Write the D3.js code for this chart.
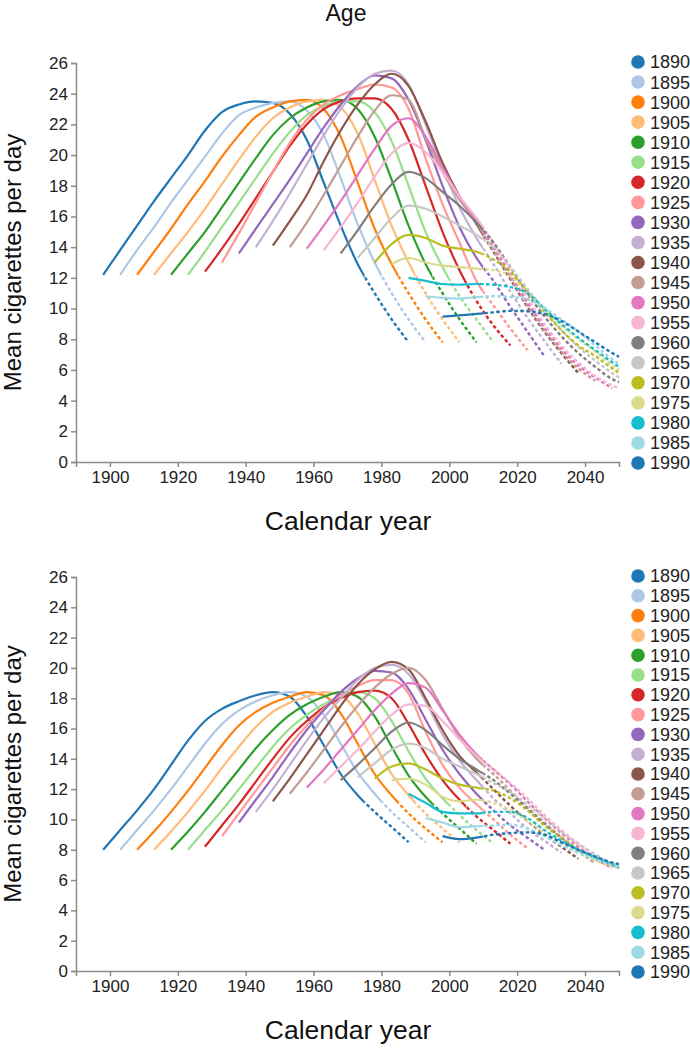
<!DOCTYPE html>
<html><head><meta charset="utf-8">
<script src="https://cdn.jsdelivr.net/npm/d3@7"></script>
<style>
body{margin:0;background:#fff;}
svg{display:block;font-family:"Liberation Sans",Arial,sans-serif;}
.axis path,.axis line{stroke:#8c8c8c;stroke-width:1.5;}
.axis text{fill:#222;font-size:17px;font-family:"Liberation Sans",Arial,sans-serif;}
</style></head><body>
<svg id="chart" width="690" height="1050"></svg>
<script>
// ---- data ----
const cohorts = [1890,1895,1900,1905,1910,1915,1920,1925,1930,1935,1940,1945,1950,1955,1960,1965,1970,1975,1980,1985,1990];
const cohortColors = ["#1f77b4","#aec7e8","#ff7f0e","#ffbb78","#2ca02c","#98df8a","#d62728","#ff9896","#9467bd","#c5b0d5","#8c564b","#c49c94","#e377c2","#f7b6d2","#7f7f7f","#c7c7c7","#bcbd22","#dbdb8d","#17becf","#9edae5","#1f77b4"];
const sampleAges = [8,13,18,23,28,33,38,43,48,53,58,63,68,73,78,83,88,93,98];
const xTickValues = [1900,1920,1940,1960,1980,2000,2020,2040];
const yTickValues = [0,2,4,6,8,10,12,14,16,18,20,22,24,26];
const lastYear = 2050, observedEndYear = 2010, observedMaxAge = 85;

const topValues = [
 [12.2,13.8,15.4,17.0,18.5,20.0,21.6,22.8,23.3,23.5,23.4,22.7,21.0,18.2,15.4,12.9,11.0,9.3,7.8],
 [12.2,13.8,15.3,16.9,18.4,19.9,21.4,22.6,23.1,23.4,23.5,22.9,21.3,18.5,15.5,13.0,11.0,9.3,7.8],
 [12.2,13.7,15.2,16.8,18.3,19.9,21.3,22.5,23.1,23.5,23.6,23.0,21.2,18.2,15.2,12.9,11.0,9.3,7.8],
 [12.2,13.6,15.0,16.5,18.1,19.7,21.2,22.4,23.1,23.5,23.6,23.1,21.4,18.4,15.4,13.0,11.0,9.3,7.8],
 [12.2,13.6,15.0,16.6,18.2,19.8,21.3,22.4,23.1,23.5,23.6,23.0,21.2,18.4,15.4,12.9,11.0,9.3,7.8],
 [12.2,13.7,15.3,16.9,18.5,20.1,21.5,22.6,23.2,23.5,23.5,22.8,20.9,18.0,15.0,12.7,10.8,9.3,7.8],
 [12.4,13.9,15.5,17.2,18.9,20.6,22.0,23.0,23.5,23.7,23.7,23.0,21.0,18.0,15.0,12.5,10.5,8.9,7.6],
 [13.0,14.9,16.9,18.9,20.8,22.3,23.3,23.9,24.3,24.6,24.4,23.0,19.8,16.8,14.3,11.8,10.2,8.7,7.3],
 [13.6,15.2,16.8,18.4,20.1,21.8,23.3,24.5,25.2,25.0,23.6,21.0,18.0,15.3,13.3,11.8,10.1,8.5,6.9],
 [14.0,15.7,17.5,19.4,21.3,23.0,24.4,25.3,25.5,24.6,22.0,19.2,16.6,14.6,12.9,11.1,9.4,7.9,6.4],
 [14.1,15.7,17.4,19.6,21.6,23.3,24.6,25.3,24.5,22.2,19.5,17.3,15.5,13.7,11.9,10.1,8.5,7.1,5.8],
 [14.0,15.6,17.4,19.3,21.2,22.9,23.9,23.6,21.1,18.9,17.1,15.6,13.8,12.0,10.2,8.6,7.2,6.1,5.3],
 [13.9,15.4,17.0,18.7,20.4,21.9,22.4,21.2,19.2,17.3,15.7,14.0,12.2,10.4,8.8,7.4,6.3,5.5,4.8],
 [13.8,15.3,16.9,18.6,20.1,20.8,20.2,18.9,17.3,15.9,14.3,12.5,10.7,9.0,7.6,6.5,5.6,5.0,4.8],
 [13.6,15.1,16.7,18.1,18.9,18.5,17.6,16.7,15.6,14.3,12.7,11.0,9.5,8.2,7.1,6.2,5.4,5.2],
 [13.3,14.6,15.9,16.7,16.5,16.0,15.4,14.8,14.0,12.7,11.3,9.9,8.6,7.5,6.6,5.8,5.5],
 [13.0,14.2,14.8,14.6,14.1,13.9,13.7,13.2,12.4,11.1,9.8,8.6,7.6,6.9,6.1,5.8],
 [12.9,13.3,13.0,12.8,12.7,12.6,12.5,12.1,11.0,10.0,8.9,8.0,7.2,6.3,6.0],
 [12.0,11.8,11.6,11.55,11.6,11.55,11.4,11.0,10.0,9.0,8.1,7.3,6.5,6.2],
 [10.8,10.7,10.65,10.75,10.8,10.75,10.6,10.05,9.3,8.5,7.6,6.7,6.4],
 [9.47,9.55,9.65,9.75,9.85,9.82,9.65,9.2,8.5,7.8,7.1,6.85]
];

const bottomValues = [
 [8.0,9.3,10.6,12.0,13.6,15.2,16.5,17.3,17.8,18.2,18.4,18.1,16.8,14.9,13.0,11.6,10.5,9.5,8.5],
 [8.0,9.3,10.6,12.0,13.5,15.0,16.3,17.2,17.8,18.2,18.4,18.1,16.9,15.0,13.1,11.7,10.5,9.5,8.5],
 [8.0,9.2,10.5,11.9,13.4,14.9,16.2,17.1,17.7,18.1,18.4,18.2,17.0,15.0,13.0,11.6,10.4,9.4,8.5],
 [8.0,9.2,10.5,11.9,13.4,14.8,16.1,17.1,17.7,18.1,18.4,18.2,17.0,15.0,13.0,11.6,10.4,9.4,8.5],
 [8.0,9.2,10.5,11.9,13.3,14.7,15.9,16.9,17.6,18.1,18.4,18.1,16.8,14.8,12.9,11.5,10.4,9.4,8.4],
 [8.0,9.3,10.6,12.0,13.4,14.8,16.0,16.9,17.6,18.1,18.4,18.0,16.5,14.5,12.7,11.4,10.3,9.3,8.4],
 [8.2,9.6,11.0,12.5,14.0,15.4,16.5,17.4,18.0,18.4,18.5,18.0,16.3,14.3,12.6,11.3,10.2,9.3,8.4],
 [8.9,10.4,11.9,13.4,14.9,16.2,17.3,18.2,18.8,19.2,19.2,18.3,15.8,13.6,12.1,11.0,10.0,9.0,8.1],
 [9.8,11.3,12.8,14.4,15.9,17.2,18.4,19.3,19.8,19.7,18.6,16.6,14.6,13.0,11.7,10.6,9.6,8.8,8.0],
 [10.5,12.0,13.6,15.2,16.7,18.0,19.2,20.0,20.2,19.6,17.8,15.6,13.9,12.6,11.4,10.4,9.4,8.6,7.8],
 [11.2,12.7,14.3,15.9,17.5,18.9,19.9,20.4,19.9,18.0,15.9,14.2,13.1,12.0,10.9,9.9,9.0,8.2,7.4],
 [11.7,13.1,14.6,16.1,17.5,18.7,19.6,20.0,19.2,17.3,15.4,14.0,13.0,11.9,10.8,9.8,8.8,7.9,7.1],
 [12.1,13.3,14.6,15.9,17.2,18.3,19.0,18.7,17.2,15.6,14.3,13.3,12.3,11.2,10.1,9.1,8.2,7.4,6.8],
 [12.4,13.5,14.6,15.8,16.9,17.6,17.5,16.5,15.3,14.2,13.3,12.4,11.4,10.3,9.3,8.4,7.6,7.0,6.8],
 [12.6,13.6,14.7,15.8,16.4,15.9,14.9,14.0,13.3,12.6,11.7,10.7,9.7,8.8,8.0,7.4,7.0,6.9],
 [12.8,13.7,14.6,15.0,14.7,14.0,13.5,13.0,12.4,11.8,11.0,10.1,9.2,8.4,7.7,7.1,7.0],
 [12.7,13.5,13.7,13.3,12.7,12.3,12.1,11.9,11.4,10.6,9.6,8.8,8.0,7.5,7.0,6.9],
 [12.6,12.7,12.3,11.5,11.2,11.3,11.1,10.6,9.9,9.1,8.4,7.8,7.3,6.9,6.8],
 [11.7,11.1,10.5,10.4,10.4,10.5,10.5,10.1,9.3,8.6,8.0,7.5,7.0,6.8],
 [10.1,9.8,9.5,9.55,9.6,9.65,9.4,8.9,8.3,7.8,7.4,7.0,6.9],
 [8.9,8.7,8.8,9.0,9.1,9.15,9.0,8.5,8.0,7.55,7.15,7.05]
];

// ---- drawing ----
const svg = d3.select("#chart");
const defs = svg.append("defs");
const W = 690, H = 1050;

function agesFor(birth){
  const a = sampleAges.filter(v => birth + v <= lastYear);
  if (birth + sampleAges[sampleAges.length-1] > lastYear && a[a.length-1] < lastYear - birth) a.push(lastYear - birth);
  return a;
}

svg.append("text").attr("x",346).attr("y",21).attr("text-anchor","middle")
  .attr("font-size",23).attr("fill","#111").text("Age");

function drawPanel(values, top, bottom, idx){
  const x = d3.scaleLinear().domain([1890, 2050]).range([76, 619]);
  const y = d3.scaleLinear().domain([0, 26]).range([bottom, top]);
  const g = svg.append("g");

  g.append("g").attr("class","axis").attr("transform",`translate(0,${bottom})`)
    .call(d3.axisBottom(x).tickValues(xTickValues).tickFormat(d3.format("d")).tickSize(5).tickSizeOuter(5).tickPadding(4));
  g.append("g").attr("class","axis").attr("transform","translate(76,0)")
    .call(d3.axisLeft(y).tickValues(yTickValues).tickSize(5).tickSizeOuter(5).tickPadding(3));

  g.append("text").attr("x",348).attr("y",bottom+68).attr("text-anchor","middle")
    .attr("font-size",26.5).attr("fill","#111").text("Calendar year");
  g.append("text").attr("transform",`translate(21,${(top+bottom)/2}) rotate(-90)`)
    .attr("text-anchor","middle").attr("font-size",24).attr("fill","#111").text("Mean cigarettes per day");

  const line = d3.line().x(d => x(d.year)).y(d => y(d.value)).curve(d3.curveMonotoneX);
  const lines = g.append("g");
  cohorts.forEach((c, i) => {
    const ages = agesFor(c);
    const vals = values[i];
    const n = Math.min(ages.length, vals.length);
    const pts = [];
    for (let j = 0; j < n; j++) pts.push({year: c + ages[j], value: vals[j]});
    const split = Math.min(c + observedMaxAge, observedEndYear);
    const idS = `cs${idx}_${i}`, idD = `cd${idx}_${i}`;
    defs.append("clipPath").attr("id", idS).append("rect")
      .attr("x", 0).attr("y", 0).attr("width", x(split)).attr("height", H);
    defs.append("clipPath").attr("id", idD).append("rect")
      .attr("x", x(split)).attr("y", 0).attr("width", W - x(split)).attr("height", H);
    lines.append("path").datum(pts).attr("d", line).attr("fill","none")
      .attr("stroke", cohortColors[i]).attr("stroke-width", 2.2)
      .attr("clip-path", `url(#${idS})`);
    lines.append("path").datum(pts).attr("d", line).attr("fill","none")
      .attr("stroke", cohortColors[i]).attr("stroke-width", 2.4)
      .attr("stroke-dasharray","3.5,2.5")
      .attr("clip-path", `url(#${idD})`);
  });

  const ly = d3.scalePoint().domain(cohorts).range([top - 1, bottom + 1]);
  const leg = g.append("g");
  cohorts.forEach((c, i) => {
    leg.append("circle").attr("cx", 638).attr("cy", ly(c)).attr("r", 6.8).attr("fill", cohortColors[i]);
    leg.append("text").attr("x", 650).attr("y", ly(c)).attr("dy","0.36em")
      .attr("font-size", 18).attr("fill","#222").text(c);
  });
}

drawPanel(topValues, 63, 462, 0);
drawPanel(bottomValues, 577, 971, 1);
</script>
</body></html>
